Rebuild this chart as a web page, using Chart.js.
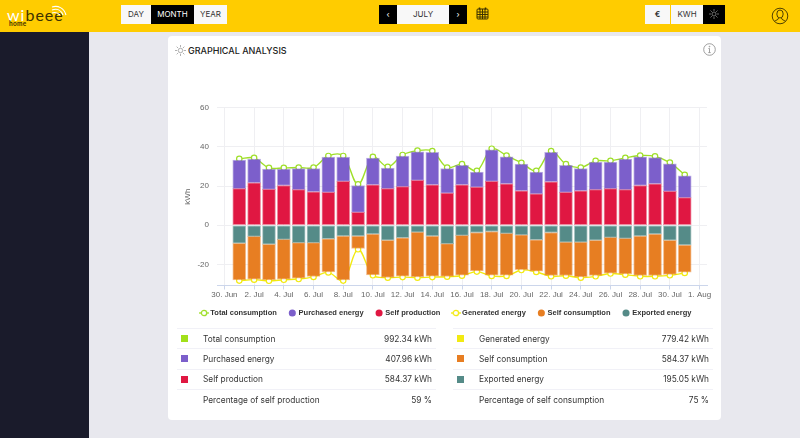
<!DOCTYPE html>
<html>
<head>
<meta charset="utf-8">
<title>Graphical analysis</title>
<script src="https://cdn.jsdelivr.net/npm/chart.js@4/dist/chart.umd.min.js"></script>
<style>
  * { box-sizing: border-box; }
  html, body { margin: 0; padding: 0; }
  body { width: 800px; height: 438px; overflow: hidden; background: #e8e8ee; position: relative; font-family: Inter, "Open Sans", sans-serif; color: #222; }
  #topbar { position: absolute; left: 0; top: 0; width: 800px; height: 32px; background: #ffcc00; }
  #sidebar { position: absolute; left: 0; top: 32px; width: 89px; height: 406px; background: #1a1b2b; }
  .logo { position: absolute; left: 7px; top: 7px; font: 400 16px/15px Lato, sans-serif; letter-spacing: 1px; color: #3d3200; }
  .logo b { color: #fff; font-weight: 400; letter-spacing: 1px; }
  .home { position: absolute; left: 9px; top: 20px; font: 700 6.5px/7px Lato, sans-serif; letter-spacing: .3px; color: #3d3200; }
  .btn { position: absolute; top: 5px; height: 19px; background: #f8f8f8; font-size: 8px; line-height: 19px; text-align: center; color: #333; }
  .btn.on { background: #000; color: #fff; }
  svg.ico { position: absolute; }
  #card { position: absolute; left: 168px; top: 36px; width: 553px; height: 384px; background: #fff; border-radius: 4px; }
  #card h2 { position: absolute; left: 20px; top: 8px; margin: 0; font-size: 9px; line-height: 13px; font-weight: 500; color: #222; }
  #chartBox { position: absolute; left: 0; top: 59px; width: 553px; height: 237px; }
  table { position: absolute; top: 292px; border-collapse: collapse; font-size: 8.3px; color: #333; }
  td { height: 20.3px; padding: 0; border-top: 1px solid #f1f1f7; }
  td.sq { width: 26px; padding-left: 4px; }
  td.sq i { display: block; width: 7px; height: 7px; }
  td.val { text-align: right; padding-right: 4px; }
</style>
</head>
<body>
<div id="topbar">
  <div class="logo"><b>wi</b>beee</div>
  <div class="home">home</div>
  <svg class="ico" style="left:50px;top:4px" width="20" height="13" viewBox="0 0 20 13" fill="none" stroke="#fff" stroke-width="1.1">
    <path d="M2 3 C8 1 14 4 16 11"/><path d="M2 6 C7 4 11 6 13 11"/><path d="M2 9 C5 8 8 9 10 11"/>
  </svg>
  <div class="btn" style="left:121px;width:30px">DAY</div>
  <div class="btn on" style="left:151px;width:43px">MONTH</div>
  <div class="btn" style="left:194px;width:33px">YEAR</div>
  <div class="btn on" style="left:379px;width:18px">&#8249;</div>
  <div class="btn" style="left:397px;width:52px">JULY</div>
  <div class="btn on" style="left:449px;width:18px">&#8250;</div>
  <svg class="ico" style="left:476px;top:7px" width="13" height="13" viewBox="0 0 13 13" fill="none" stroke="#3d3200" stroke-width="1">
    <rect x="1" y="2" width="11" height="10" rx="1"/><path d="M1 5h11M1 7.5h11M1 10h11M4 2v10M6.5 2v10M9 2v10"/><path d="M3.5 0.5v2M9.5 0.5v2" stroke-width="1.5"/>
  </svg>
  <div class="btn" style="left:645px;width:25px;font-weight:700">&euro;</div>
  <div class="btn" style="left:671px;width:32px">KWH</div>
  <div class="btn on" style="left:703px;width:22px"></div>
  <svg class="ico" style="left:709px;top:9px" width="10" height="10" viewBox="0 0 10 10" fill="none" stroke="#999" stroke-width=".7">
    <circle cx="5" cy="5" r="2"/><path d="M5 0v2M5 8v2M0 5h2M8 5h2M1.5 1.5l1.4 1.4M7.1 7.1l1.4 1.4M1.5 8.5l1.4-1.4M7.1 2.9l1.4-1.4"/>
  </svg>
  <svg class="ico" style="left:771px;top:7px" width="18" height="18" viewBox="0 0 18 18" fill="none" stroke="#3d3200" stroke-width=".9">
    <circle cx="9" cy="9" r="7.8"/><ellipse cx="9" cy="7" rx="3.2" ry="4"/><path d="M7.5 11c0 2-2.5 2-4 3.2M10.5 11c0 2 2.5 2 4 3.2"/>
  </svg>
</div>
<div id="sidebar"></div>
<div id="card">
  <svg class="ico" style="left:7px;top:9px" width="11" height="11" viewBox="0 0 10 10" fill="none" stroke="#888" stroke-width=".6">
    <circle cx="5" cy="5" r="2"/><path d="M5 0v2M5 8v2M0 5h2M8 5h2M1.5 1.5l1.4 1.4M7.1 7.1l1.4 1.4M1.5 8.5l1.4-1.4M7.1 2.9l1.4-1.4"/>
  </svg>
  <h2>GRAPHICAL ANALYSIS</h2>
  <svg class="ico" style="left:535px;top:7px" width="13" height="13" viewBox="0 0 13 13" fill="none" stroke="#888" stroke-width=".8">
    <circle cx="6.5" cy="6.5" r="5.8"/><path d="M6.5 5.5v4M5.3 9.6h2.4M5.4 5.5h1.1"/><circle cx="6.5" cy="3.6" r=".4"/>
  </svg>
  <div id="chartBox"><canvas id="energyChart" width="553" height="237"></canvas></div>
  <table id="tableLeft" style="left:9px;width:259px"></table>
  <table id="tableRight" style="left:285px;width:260px"></table>
</div>

<script>
const days = ['30. Jun', '1. Jul', '2. Jul', '3. Jul', '4. Jul', '5. Jul', '6. Jul', '7. Jul', '8. Jul', '9. Jul', '10. Jul', '11. Jul', '12. Jul', '13. Jul', '14. Jul', '15. Jul', '16. Jul', '17. Jul', '18. Jul', '19. Jul', '20. Jul', '21. Jul', '22. Jul', '23. Jul', '24. Jul', '25. Jul', '26. Jul', '27. Jul', '28. Jul', '29. Jul', '30. Jul', '31. Jul', '1. Aug'];

// null on 30. Jun and 1. Aug, the axis runs one day past the month on each side
const totalConsumption = [null, 33.9, 34.4, 29.3, 29.3, 29.5, 29.5, 35.4, 35.4, 20.9, 34.9, 29.8, 35.9, 38.1, 37.9, 29.5, 31.2, 27.8, 39.1, 35.6, 31.9, 27.8, 37.9, 31.2, 29.5, 32.9, 32.9, 34.4, 35.6, 35.2, 32, 25.8, null];
const purchasedEnergy = [null, 14.6, 12.1, 10.4, 8.4, 10.7, 11.8, 18, 12.4, 13.7, 13.6, 10.5, 15.6, 14.6, 16.6, 12.5, 9.9, 7.7, 16.1, 13.8, 13.7, 11.2, 15.1, 13.8, 11.3, 14.1, 13.6, 15.6, 14.7, 13.4, 14.1, 11.1, null];
const selfProduction = [null, 18.7, 21.7, 18.3, 20.3, 18.2, 17.1, 16.8, 22.4, 6.6, 20.7, 18.7, 19.7, 22.9, 20.7, 16.4, 20.7, 19.5, 22.4, 21.2, 17.6, 16, 22.2, 16.8, 17.6, 18.2, 18.7, 18.2, 20.3, 21.2, 17.3, 14.1, null];
const generatedEnergy = [null, -28.3, -27.8, -28.4, -27.9, -27.5, -26.4, -24.1, -28.3, -12.3, -25.6, -26.8, -26.5, -26.8, -26.5, -26.3, -25.8, -23.7, -25.9, -25.9, -22.9, -23.9, -26.1, -25.8, -26.8, -26.1, -24.7, -25.3, -26.1, -26.1, -25.6, -24.4, null];
const selfConsumption = [null, -18.7, -21.9, -18.2, -20.4, -18.2, -17.3, -17, -22.4, -6.4, -20.9, -19, -19.6, -22.9, -20.5, -16.8, -20.3, -19.7, -22.3, -21.3, -17.8, -16.1, -22, -17.1, -17.8, -18, -18.3, -18.2, -20.2, -21.2, -17.5, -13.9, null];
const exportedEnergy = [null, -9.2, -5.7, -9.7, -7.2, -8.9, -8.9, -6.9, -5.5, -5.5, -4.5, -7.7, -6.4, -3.5, -5.5, -9.4, -5.2, -3.7, -3.2, -4.2, -4.9, -7.4, -3.7, -8.6, -8.6, -7.7, -6.2, -6.7, -5.5, -4.5, -7.7, -10.1, null];

const green = '#9fdf2a', purple = '#7c5fcb', red = '#e01742', yellow = '#f2ea12', orange = '#e77e22', teal = '#558b88';

// Summary tables under the chart
const leftRows = [['Total consumption', '992.34 kWh', '#a2e01a'], ['Purchased energy', '407.96 kWh', purple], ['Self production', '584.37 kWh', red], ['Percentage of self production', '59 %', null]];
const rightRows = [['Generated energy', '779.42 kWh', '#f2ea12'], ['Self consumption', '584.37 kWh', orange], ['Exported energy', '195.05 kWh', teal], ['Percentage of self consumption', '75 %', null]];

function fillTable(id, rows) {
  document.getElementById(id).innerHTML = rows.map(r =>
    '<tr><td class="sq">' + (r[2] ? '<i style="background:' + r[2] + '"></i>' : '') + '</td><td>' + r[0] + '</td><td class="val">' + r[1] + '</td></tr>'
  ).join('');
}
fillTable('tableLeft', leftRows);
fillTable('tableRight', rightRows);

// Legend symbol for the two line series: short line with a hollow marker
function lineSymbol(color) {
  const c = document.createElement('canvas');
  c.width = 10; c.height = 10;
  const g = c.getContext('2d');
  g.strokeStyle = color; g.lineWidth = 1.3;
  g.beginPath(); g.moveTo(0, 5); g.lineTo(10, 5); g.stroke();
  g.fillStyle = '#fff';
  g.beginPath(); g.arc(5, 5, 2.7, 0, Math.PI * 2); g.fill(); g.stroke();
  return c;
}

function barSet(label, data, color, order) {
  return { type: 'bar', label: label, data: data, stack: 'bars', order: order, backgroundColor: color, borderColor: color + '80', borderWidth: 1, borderSkipped: false, barThickness: 13 };
}
function lineSet(label, data, color, stack) {
  return { type: 'line', label: label, data: data, stack: stack, order: 5, borderColor: color, backgroundColor: '#fff', borderWidth: 1.4, tension: 0.35, pointRadius: 2.7, pointBorderWidth: 1.2, pointBorderColor: color, pointBackgroundColor: '#fff' };
}

// Legend row sits closer to the axis than its own padding would allow,
// and is centred on the card, not on the plot
const legendShift = {
  id: 'legendShift',
  afterLayout: chart => {
    const lg = chart.legend;
    lg.top = 216.5 - lg.height / 2;
    lg.left += 9;
    lg.right += 9;
  }
};

new Chart(document.getElementById('energyChart').getContext('2d'), {
  plugins: [legendShift],
  data: {
    labels: days,
    datasets: [
      lineSet('Total consumption', totalConsumption, green, 'lineTotal'),
      barSet('Purchased energy', purchasedEnergy, purple, 2),
      barSet('Self production', selfProduction, red, 1),
      lineSet('Generated energy', generatedEnergy, yellow, 'lineGenerated'),
      barSet('Self consumption', selfConsumption, orange, 2),
      barSet('Exported energy', exportedEnergy, teal, 1)
    ]
  },
  options: {
    responsive: false,
    animation: false,
    layout: { padding: { top: 8.5, right: 14, left: 0, bottom: 0 } },
    plugins: {
      tooltip: { enabled: false },
      legend: {
        position: 'bottom',
        labels: {
          usePointStyle: true,
          boxWidth: 5,
          boxHeight: 5,
          color: '#333',
          font: { family: '"Liberation Sans"', size: 7.5, weight: 'bold' },
          padding: 13,
          generateLabels: chart => chart.data.datasets.map((ds, i) => ({
            text: ds.label,
            datasetIndex: i,
            fontColor: '#333',
            fillStyle: ds.type === 'bar' ? ds.backgroundColor : '#fff',
            strokeStyle: ds.type === 'bar' ? ds.backgroundColor : ds.borderColor,
            lineWidth: 0,
            pointStyle: ds.type === 'bar' ? 'circle' : lineSymbol(ds.borderColor)
          }))
        }
      }
    },
    scales: {
      x: {
        type: 'category',
        offset: true,
        stacked: true,
        grid: { offset: false, color: '#efeff2', tickColor: '#ccd6eb', tickLength: 4 },
        border: { color: '#ccd6eb' },
        ticks: { color: '#666', font: { family: '"Liberation Sans"', size: 8 }, autoSkip: false, maxRotation: 0, padding: 0 },
        // a label every second day
        afterBuildTicks: scale => { scale.ticks = scale.ticks.filter((t, i) => i % 2 === 0); },
        afterFit: scale => { scale.height = 16; }
      },
      y: {
        stacked: true,
        min: -30.8,
        max: 60,
        grid: { color: '#efeff2', drawTicks: false },
        border: { display: false },
        title: { display: true, text: 'kWh', color: '#666', font: { family: '"Liberation Sans"', size: 8 }, padding: { top: 15, bottom: 0 } },
        ticks: { color: '#666', font: { family: '"Liberation Sans"', size: 8 }, stepSize: 20, padding: 8 },
        afterBuildTicks: scale => { scale.ticks = scale.ticks.filter(t => t.value % 20 === 0); },
        afterFit: scale => { scale.width = 49; }
      }
    }
  }
});
</script>
</body>
</html>
